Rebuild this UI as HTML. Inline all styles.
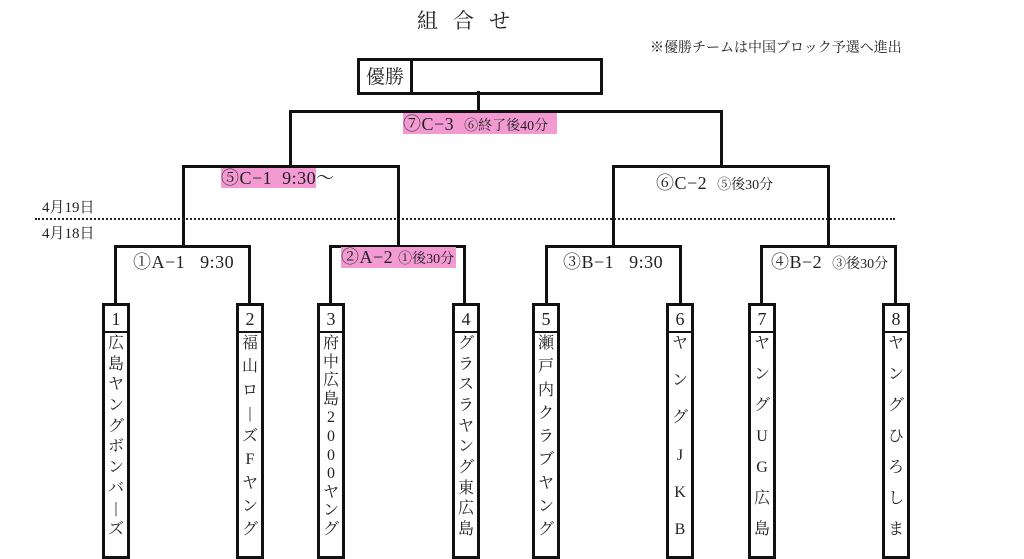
<!DOCTYPE html>
<html><head><meta charset="utf-8"><style>
body{margin:0;width:1024px;height:545px;background:#fff;position:relative;overflow:hidden;font-family:"Liberation Serif","Noto Serif CJK SC","Noto Sans CJK JP",serif;color:#222}
.a{position:absolute;white-space:pre}
.h{position:absolute;height:3px;background:#111}
.v{position:absolute;width:3px;background:#111}
.pk{background:#f39ad3}
.box{position:absolute;width:22px;top:303px;height:250px;border:3px solid #111;background:#fff}
.num{height:25px;border-bottom:2px solid #111;text-align:center;font-size:18px;line-height:26px}
.nm{display:flex;flex-direction:column;justify-content:space-between;align-items:center;height:204px;padding-top:2px;font-size:16px;line-height:18px}
.l{font-size:18px;letter-spacing:0.5px}
.s{font-size:14px;letter-spacing:0}
</style></head><body>
<div class="a" style="left:417px;top:5px;font-size:21px;letter-spacing:15px">組合せ</div>
<div class="a" style="left:650px;top:37px;font-size:14px">※優勝チームは中国ブロック予選へ進出</div>
<div class="a" style="left:357px;top:58px;width:240px;height:31px;border:3px solid #111"></div>
<div class="v" style="left:410px;top:58px;height:34px"></div>
<div class="a" style="left:366px;top:62px;font-size:19px">優勝</div>
<div class="v" style="left:477px;top:91px;height:21px"></div>
<!-- C-3 -->
<div class="h" style="left:289px;top:110px;width:434px"></div>
<div class="v" style="left:289px;top:110px;height:57px"></div>
<div class="v" style="left:720px;top:110px;height:57px"></div>
<div class="a pk l" style="left:403px;top:113px;width:154px;height:21px;line-height:22px">⑦C−3  <span class="s">⑥終了後40分</span></div>
<!-- C-1 / C-2 -->
<div class="h" style="left:182px;top:165px;width:218px"></div>
<div class="v" style="left:182px;top:165px;height:82px"></div>
<div class="v" style="left:397px;top:165px;height:82px"></div>
<div class="a l" style="left:221px;top:167px;line-height:22px"><span class="pk">⑤C−1  9:30</span>〜</div>
<div class="h" style="left:612px;top:165px;width:218px"></div>
<div class="v" style="left:612px;top:165px;height:82px"></div>
<div class="v" style="left:827px;top:165px;height:82px"></div>
<div class="a l" style="left:656px;top:169px">⑥C−2  <span class="s">⑤後30分</span></div>
<!-- dates -->
<div class="a" style="left:42px;top:196px;font-size:15px">4月19日</div>
<div class="a" style="left:35px;top:218px;width:860px;border-top:2px dotted #222"></div>
<div class="a" style="left:42px;top:222px;font-size:15px">4月18日</div>
<!-- round 1 -->
<div class="h" style="left:114px;top:245px;width:137px"></div>
<div class="v" style="left:114px;top:245px;height:60px"></div>
<div class="v" style="left:248px;top:245px;height:60px"></div>
<div class="a l" style="left:133px;top:248px">①A−1   9:30</div>
<div class="h" style="left:329px;top:245px;width:137px"></div>
<div class="v" style="left:329px;top:245px;height:60px"></div>
<div class="v" style="left:463px;top:245px;height:60px"></div>
<div class="a pk l" style="left:341px;top:247px;width:115px;height:21px;line-height:21px">②A−2 <span class="s">①後30分</span></div>
<div class="h" style="left:545px;top:245px;width:137px"></div>
<div class="v" style="left:545px;top:245px;height:60px"></div>
<div class="v" style="left:679px;top:245px;height:60px"></div>
<div class="a l" style="left:563px;top:248px">③B−1   9:30</div>
<div class="h" style="left:760px;top:245px;width:137px"></div>
<div class="v" style="left:760px;top:245px;height:60px"></div>
<div class="v" style="left:894px;top:245px;height:60px"></div>
<div class="a l" style="left:771px;top:248px">④B−2  <span class="s">③後30分</span></div>
<!-- teams -->
<div class="box" style="left:102px"><div class="num">1</div><div class="nm"><span>広</span><span>島</span><span>ヤ</span><span>ン</span><span>グ</span><span>ボ</span><span>ン</span><span>バ</span><span>|</span><span>ズ</span></div></div>
<div class="box" style="left:236px"><div class="num">2</div><div class="nm"><span>福</span><span>山</span><span>ロ</span><span>|</span><span>ズ</span><span>F</span><span>ヤ</span><span>ン</span><span>グ</span></div></div>
<div class="box" style="left:317px"><div class="num">3</div><div class="nm"><span>府</span><span>中</span><span>広</span><span>島</span><span>2</span><span>0</span><span>0</span><span>0</span><span>ヤ</span><span>ン</span><span>グ</span></div></div>
<div class="box" style="left:452px"><div class="num">4</div><div class="nm"><span>グ</span><span>ラ</span><span>ス</span><span>ラ</span><span>ヤ</span><span>ン</span><span>グ</span><span>東</span><span>広</span><span>島</span></div></div>
<div class="box" style="left:532px"><div class="num">5</div><div class="nm"><span>瀬</span><span>戸</span><span>内</span><span>ク</span><span>ラ</span><span>ブ</span><span>ヤ</span><span>ン</span><span>グ</span></div></div>
<div class="box" style="left:666px"><div class="num">6</div><div class="nm"><span>ヤ</span><span>ン</span><span>グ</span><span>J</span><span>K</span><span>B</span></div></div>
<div class="box" style="left:748px"><div class="num">7</div><div class="nm"><span>ヤ</span><span>ン</span><span>グ</span><span>U</span><span>G</span><span>広</span><span>島</span></div></div>
<div class="box" style="left:882px"><div class="num">8</div><div class="nm"><span>ヤ</span><span>ン</span><span>グ</span><span>ひ</span><span>ろ</span><span>し</span><span>ま</span></div></div>
</body></html>
